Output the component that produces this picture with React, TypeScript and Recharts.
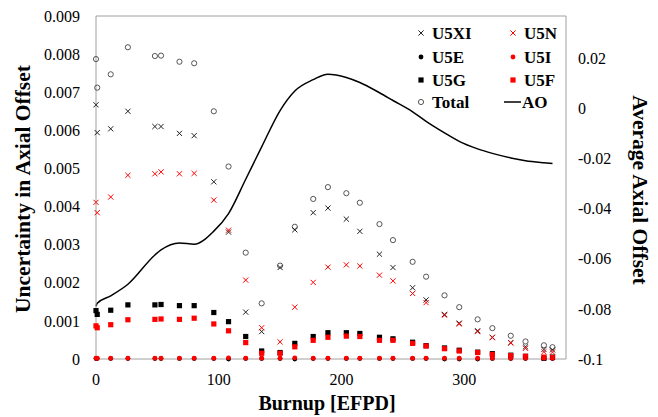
import React from 'react';
import { ComposedChart, Line, XAxis, YAxis, ReferenceLine } from 'recharts';

// burnup steps [EFPD]
const burnup = [0, 1, 12, 26, 48, 53, 68, 80, 96, 108, 122, 135, 150, 162, 177, 189, 204, 215, 231, 242, 258, 269, 284, 296, 311, 323, 338, 350, 365, 372];

// uncertainty contributions (left axis)
const u5xi = [0.00667, 0.00594, 0.00604, 0.0065, 0.0061, 0.0061, 0.00592, 0.00586, 0.00465, 0.00333, 0.00123, 0.00072, 0.0024, 0.00339, 0.00384, 0.00396, 0.00367, 0.00335, 0.00275, 0.0024, 0.00187, 0.00155, 0.00117, 0.00094, 0.00074, 0.00057, 0.00043, 0.00032, 0.00025, 0.00024];
const u5n = [0.00411, 0.00384, 0.00425, 0.00482, 0.00486, 0.00491, 0.00486, 0.00487, 0.00417, 0.00338, 0.00207, 0.00082, 0.00045, 0.00136, 0.00201, 0.00241, 0.00247, 0.00244, 0.0022, 0.00205, 0.00172, 0.00148, 0.00115, 0.00092, 0.00072, 0.00056, 0.00042, 0.00028, 0.00019, 0.00018];
const u5e = [0.00001, 0.00001, 0.00001, 0.00001, 0.00001, 0.00001, 0.00001, 0.00001, 0.00001, 0.0, 0.00001, 0.00001, 0.00001, 0.0, 0.00001, 0.00001, 0.00001, 0.00001, 0.00001, 0.00001, 0.00001, 0.00001, 0.0, 0.0, 0.0, 0.00001, 0.00001, 0.00001, 0.00001, 0.00001];
const u5i = [0.00002, 0.00002, 0.00002, 0.00002, 0.00002, 0.00002, 0.00002, 0.00002, 0.00002, 0.00003, 0.00002, 0.00002, 0.00002, 0.00003, 0.00002, 0.00002, 0.00002, 0.00002, 0.00002, 0.00002, 0.00002, 0.00002, 0.00002, 0.00002, 0.00002, 0.00002, 0.00002, 0.00002, 0.00002, 0.00002];
const u5g = [0.00127, 0.00117, 0.00128, 0.00142, 0.00142, 0.00143, 0.0014, 0.0014, 0.00122, 0.00098, 0.00059, 0.00021, 0.00017, 0.00041, 0.00059, 0.00069, 0.00069, 0.00067, 0.00057, 0.00053, 0.00044, 0.00035, 0.00029, 0.00023, 0.00018, 0.00014, 0.0001, 0.00007, 0.00002, 0.00005];
const u5f = [0.00087, 0.00082, 0.0009, 0.00103, 0.00104, 0.00105, 0.00104, 0.00107, 0.00092, 0.00074, 0.00043, 0.00015, 0.00015, 0.00032, 0.00049, 0.00057, 0.0006, 0.00059, 0.00049, 0.00049, 0.00041, 0.00034, 0.00027, 0.00021, 0.00017, 0.00012, 0.00009, 0.00007, 0.00005, 0.00004];
const total = [0.00787, 0.00712, 0.00747, 0.00818, 0.00795, 0.00796, 0.0078, 0.00776, 0.0065, 0.00505, 0.00279, 0.00146, 0.00245, 0.00347, 0.0042, 0.00451, 0.00435, 0.0041, 0.00354, 0.00312, 0.00255, 0.00216, 0.00167, 0.00136, 0.00104, 0.00081, 0.00061, 0.00046, 0.00036, 0.00031];

// average axial offset (right axis)
const ao = [-0.079, -0.0778, -0.0748, -0.0702, -0.0585, -0.0565, -0.0537, -0.0542, -0.049, -0.042, -0.0283, -0.0154, -0.0009, 0.0069, 0.0114, 0.0136, 0.0123, 0.0103, 0.0062, 0.0031, -0.0014, -0.0052, -0.0098, -0.0132, -0.0162, -0.018, -0.0198, -0.0209, -0.0217, -0.022];

const xTicks = [0, 100, 200, 300];
const leftTicks = [0, 0.001, 0.002, 0.003, 0.004, 0.005, 0.006, 0.007, 0.008, 0.009];
const rightTicks = [-0.1, -0.08, -0.06, -0.04, -0.02, 0, 0.02];

const rows = burnup.map((b, i) => ({
  burnup: b,
  u5xi: u5xi[i],
  u5n: u5n[i],
  u5e: u5e[i],
  u5i: u5i[i],
  u5g: u5g[i],
  u5f: u5f[i],
  total: total[i],
  ao: ao[i],
}));

const RED = '#ff0000';
const FONT = '"Liberation Serif", "Times New Roman", serif';

// marker shapes
const crossAt = (cx: number, cy: number, color: string, key?: any) => {
  const s = 2.6;
  return (
    <path key={key} d={`M${cx - s},${cy - s}L${cx + s},${cy + s}M${cx - s},${cy + s}L${cx + s},${cy - s}`}
      stroke={color} strokeWidth={1} fill="none" />
  );
};
const ringAt = (cx: number, cy: number, key?: any) => (
  <circle key={key} cx={cx} cy={cy} r={2.6} stroke="#444" strokeWidth={0.9} fill="none" />
);
const dotAt = (cx: number, cy: number, color: string, key?: any) => (
  <circle key={key} cx={cx} cy={cy} r={2.4} fill={color} stroke="none" />
);
const squareAt = (cx: number, cy: number, color: string, key?: any) => (
  <rect key={key} x={cx - 2.6} y={cy - 2.6} width={5.2} height={5.2} fill={color} stroke="none" />
);

const mk = (draw: (cx: number, cy: number, key: any) => React.ReactElement) => (p: any) => {
  if (p.cx == null || p.cy == null) return <g key={p.index} />;
  return draw(p.cx, p.cy, p.index);
};

const legendRows = [
  { y: 33, left: { label: 'U5XI', draw: (x: number, y: number) => crossAt(x, y, '#222') }, right: { label: 'U5N', draw: (x: number, y: number) => crossAt(x, y, RED) } },
  { y: 57, left: { label: 'U5E', draw: (x: number, y: number) => dotAt(x, y, '#000') }, right: { label: 'U5I', draw: (x: number, y: number) => dotAt(x, y, RED) } },
  { y: 80, left: { label: 'U5G', draw: (x: number, y: number) => squareAt(x, y, '#000') }, right: { label: 'U5F', draw: (x: number, y: number) => squareAt(x, y, RED) } },
  { y: 102, left: { label: 'Total', draw: (x: number, y: number) => ringAt(x, y) }, right: { label: 'AO', draw: (x: number, y: number) => <line x1={x - 9} x2={x + 8} y1={y} y2={y} stroke="#000" strokeWidth={1.5} /> } },
];

export default function App() {
  return (
    <div style={{ position: 'absolute', left: 0, top: 0, width: 658, height: 417, background: '#fff' }}>
      <ComposedChart width={658} height={417} data={rows} margin={{ top: 16, right: 0, bottom: 0, left: 0 }}>
        <XAxis dataKey="burnup" type="number" domain={[0, 383]} ticks={xTicks} height={58}
          tickLine={false} tickSize={6} tickMargin={9} axisLine={{ stroke: '#a0a0a0' }}
          tick={{ fill: '#000', fontSize: 16, fontFamily: FONT }} />
        <YAxis yAxisId="left" orientation="left" width={96} domain={[0, 0.009]} ticks={leftTicks}
          tickFormatter={(v: number) => String(v)} tickLine={false} tickSize={6} tickMargin={10}
          axisLine={{ stroke: '#a0a0a0' }} tick={{ fill: '#000', fontSize: 16, fontFamily: FONT }} />
        <YAxis yAxisId="right" orientation="right" width={92} domain={[-0.1, 0.0368]} ticks={rightTicks}
          tickFormatter={(v: number) => String(v)} tickLine={false} tickSize={6} tickMargin={6}
          axisLine={{ stroke: '#a0a0a0' }} tick={{ fill: '#000', fontSize: 16, fontFamily: FONT }} />
        <ReferenceLine yAxisId="left" y={0.009} stroke="#a0a0a0" />

        <Line yAxisId="left" dataKey="total" stroke="none" isAnimationActive={false} activeDot={false}
          dot={mk((x, y, k) => ringAt(x, y, k))} />
        <Line yAxisId="left" dataKey="u5xi" stroke="none" isAnimationActive={false} activeDot={false}
          dot={mk((x, y, k) => crossAt(x, y, '#222', k))} />
        <Line yAxisId="left" dataKey="u5n" stroke="none" isAnimationActive={false} activeDot={false}
          dot={mk((x, y, k) => crossAt(x, y, RED, k))} />
        <Line yAxisId="left" dataKey="u5g" stroke="none" isAnimationActive={false} activeDot={false}
          dot={mk((x, y, k) => squareAt(x, y, '#000', k))} />
        <Line yAxisId="left" dataKey="u5f" stroke="none" isAnimationActive={false} activeDot={false}
          dot={mk((x, y, k) => squareAt(x, y, RED, k))} />
        <Line yAxisId="left" dataKey="u5e" stroke="none" isAnimationActive={false} activeDot={false}
          dot={mk((x, y, k) => dotAt(x, y, '#000', k))} />
        <Line yAxisId="left" dataKey="u5i" stroke="none" isAnimationActive={false} activeDot={false}
          dot={mk((x, y, k) => dotAt(x, y, RED, k))} />
        <Line yAxisId="right" dataKey="ao" type="monotone" stroke="#000" strokeWidth={1.5}
          dot={false} activeDot={false} isAnimationActive={false} />
      </ComposedChart>

      <svg width={658} height={417} style={{ position: 'absolute', left: 0, top: 0, pointerEvents: 'none' }}>
        <g fontFamily={FONT} fontWeight="bold" fill="#000">
          <text transform="translate(23,189) rotate(-90)" textAnchor="middle" dominantBaseline="central" fontSize={21.5}>
            Uncertainty in Axial Offset
          </text>
          <text transform="translate(640,190) rotate(90)" textAnchor="middle" dominantBaseline="central" fontSize={21.5}>
            Average Axial Offset
          </text>
          <text x={327} y={403} textAnchor="middle" dominantBaseline="central" fontSize={20}>
            Burnup [EFPD]
          </text>
          {legendRows.map((r) => (
            <g key={r.left.label}>
              {r.left.draw(421, r.y)}
              <text x={432} y={r.y} dominantBaseline="central" fontSize={17}>{r.left.label}</text>
              {r.right.draw(513, r.y)}
              <text x={r.right.label === 'AO' ? 522 : 524} y={r.y} dominantBaseline="central" fontSize={17}>{r.right.label}</text>
            </g>
          ))}
        </g>
      </svg>
    </div>
  );
}
